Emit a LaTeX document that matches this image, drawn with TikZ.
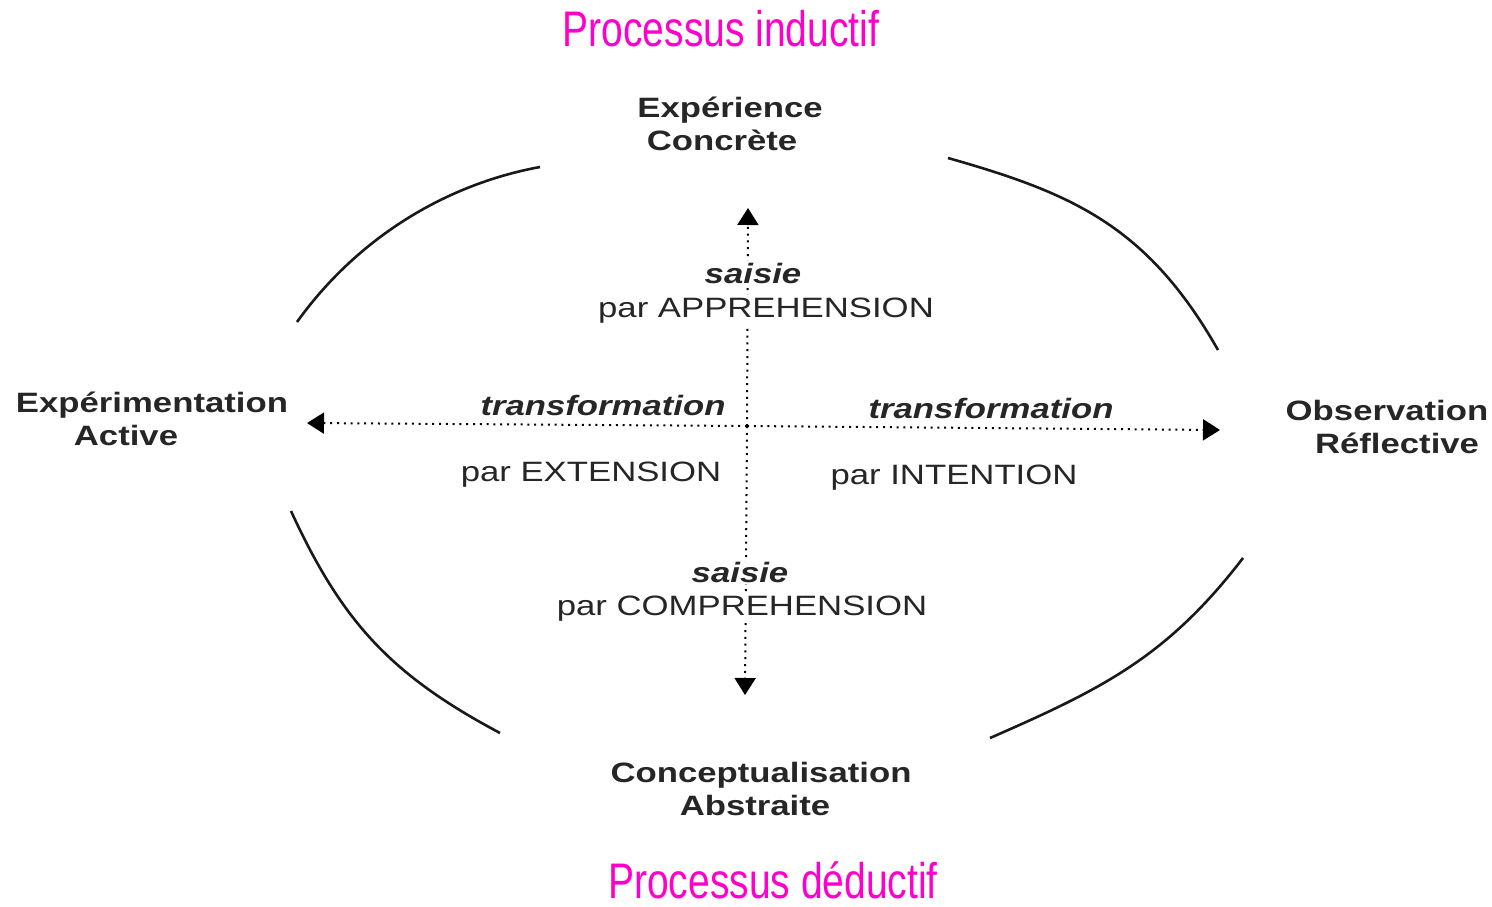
\documentclass[tikz,border=0pt]{standalone}
\usepackage{fontspec}
\setmainfont{Liberation Sans}[FakeStretch=1.24]
\newfontfamily\titlefont{Liberation Sans}[FakeStretch=0.78]
\usepackage{tikz}
\usetikzlibrary{arrows.meta}
\definecolor{procpink}{RGB}{255,0,204}

\begin{document}
\begin{tikzpicture}[
  x=0.5pt, y=-0.5pt,
  font=\fontsize{14}{16.5}\selectfont,
  txt/.style={text=black!85, inner sep=1pt},
  pole/.style={txt, align=center, font=\fontsize{14}{16.5}\selectfont\bfseries},
  mode/.style={txt, anchor=base, fill=white, font=\fontsize{14}{16.5}\selectfont\bfseries\itshape},
  par/.style={txt, anchor=base, fill=white},
  title/.style={anchor=base, inner sep=0pt, text=procpink, font=\titlefont\fontsize{25}{30}\selectfont},
  axis/.style={dash pattern=on 1pt off 2.4pt, line width=1pt,
               -{Triangle[length=8.5pt,width=10.5pt]}},
  rim/.style={line width=1.3pt, black!90}
]
\useasboundingbox (0,0) rectangle (1492,906);
% cycle (four arcs)
\draw[rim] (540,167) .. controls (442,185) and (355,241) .. (297,322);
\draw[rim] (948,158) .. controls (1071,193) and (1147,225) .. (1218,350);
\draw[rim] (291,511) .. controls (342,622) and (391,675) .. (500,733);
\draw[rim] (1243,558) .. controls (1167,657) and (1102,689) .. (990,738);
% axes
\coordinate (mid) at (747,426);
\coordinate (up) at (748,208);
\coordinate (down) at (745,695);
\coordinate (west) at (307,423);
\coordinate (east) at (1220,430);
\draw[axis] (mid) -- (up);
\draw[axis] (mid) -- (down);
\draw[axis] (mid) -- (west);
\draw[axis] (mid) -- (east);
% poles
\node[pole] (ec) at (726,124) {Expérience\hspace*{-4pt}\\ Concrète\hspace*{4pt}};
\node[pole] (ea) at (152,419) {Expérimentation\\ Active\hspace*{26pt}};
\node[pole] (or) at (1387,427) {Observation\\ \hspace*{10pt}Réflective};
\node[pole] (ca) at (761,789) {Conceptualisation\\ Abstraite\hspace*{6pt}};
% axis labels
\node[mode] (saisieA) at (753,283) {saisie};
\node[par] (appr) at (766,317) {par APPREHENSION};
\node[mode] (transE) at (603,415) {transformation};
\node[mode] (transI) at (991,418) {transformation};
\node[par] (ext) at (591,481) {par EXTENSION};
\node[par] (int) at (954,484) {par INTENTION};
\node[mode] (saisieC) at (740,582) {saisie};
\node[par] (compr) at (742,615) {par COMPREHENSION};
% processes
\node[title] (ind) at (721,46) {Processus inductif};
\node[title] (ded) at (773,898) {Processus déductif};
\end{tikzpicture}
\end{document}
